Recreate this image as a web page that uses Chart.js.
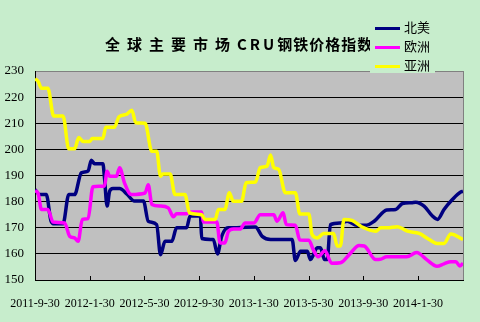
<!DOCTYPE html>
<html>
<head>
<meta charset="utf-8">
<script src="https://cdn.jsdelivr.net/npm/chart.js@4.4.1/dist/chart.umd.min.js"></script>
<style>
body { margin: 0; background: #c7edcc; }
#wrap { position: relative; width: 480px; height: 322px; }
#title { position: absolute; left: 105px; top: 35px; font: bold 15px "Noto Sans CJK SC"; line-height: 18px; white-space: nowrap; color: #000; }
#title .wide { letter-spacing: 7px; }
#title .latin { letter-spacing: 3px; }
#title .tight { letter-spacing: 1px; }
#legend { position: absolute; left: 370px; top: 16px; width: 65px; height: 57px; background: #c7edcc; font: 13px "Noto Sans CJK SC"; }
#legend div { position: absolute; left: 5px; height: 19px; line-height: 19px; white-space: nowrap; }
#legend span { display: inline-block; width: 25px; height: 3px; vertical-align: middle; margin-right: 4px; }
</style>
</head>
<body>
<div id="wrap">
  <canvas id="chart" width="480" height="322"></canvas>
  <div id="title"><span class="wide">全球主要市场</span><span class="latin">CRU</span><span class="tight">钢铁价格指数</span></div>
  <div id="legend"></div>
</div>
<script>
// x positions are weeks counted from 2011-9-30
const tickWeeks = [0, 17, 34, 51, 68, 85, 102, 119];
const tickLabels = ['2011-9-30', '2012-1-30', '2012-5-30', '2012-9-30', '2013-1-30', '2013-5-30', '2013-9-30', '2014-1-30'];
const seriesNames = ['北美', '欧洲', '亚洲'];
const seriesColors = ['#000080', '#ff00ff', '#ffff00'];

// 北美
const naWeeks = [0,1.4,3.5,5,6,8.7,10.5,12.3,14.4,16.5,17.5,18.5,21.1,21.6,22.4,23.2,24.2,26.3,28.5,30.9,33.7,35.2,37.8,39,40.4,42.5,44,47.1,48.2,51.4,51.8,55.4,56.7,58,60,62.7,68.5,70.6,73.2,79.9,80.9,82.5,84.6,85.6,87.7,88.7,90,90.8,91.8,94.9,97,100,103,105.4,109.3,112.1,114.2,117,118.3,120.9,123.5,125.1,127.1,129.7,132.3,133];
const naValues = [184.6,182.7,182.7,172.5,171.5,171.5,182.7,182.7,191,191.7,195.8,194.5,194.5,189,178.3,184,185,185,183,180.2,180.2,172.5,171.2,159.7,164.8,164.8,170,170,174.5,174.5,165.9,165.5,160,166.7,170,170,170.3,166.7,165.5,165.5,157.5,161,161,157.8,162.3,162.3,157.8,157.8,171.2,171.8,172.5,171,171,172.5,176.8,177,179.3,179.6,179.8,178.3,174.5,173.2,177,180.8,183.7,183.9];

// 欧洲
const euWeeks = [0,1,2,4,5.6,9.2,10.8,12.3,13.4,14.7,16.5,18,21.6,22.4,23.2,25.3,26.3,27.8,29.9,34.2,35.2,36.3,38.9,41.4,43,44,47.1,48.2,51.8,52.3,56.5,57.5,59,60.1,61.7,63.7,65.3,68,70,74.2,75.2,77.1,78.1,80.9,82.3,85.1,86.5,88,90.1,92.2,94.9,98,100.7,102.3,105.9,107.5,109.3,115.5,118.6,121.8,124.9,127.1,129.2,130.8,132,133];
const euValues = [184.2,183,177,177,172.2,171.8,166.7,166.1,164.8,173.2,173.5,185.7,186,191.6,189.7,189.7,193,187.2,182.7,183.3,186.5,178.9,178.3,177.6,174.2,175.4,175.4,176,176,172.2,172.2,164.2,164.2,168.6,169.5,169.5,171.8,171.8,175,175,172.5,175.7,171.2,171,165.3,165.2,161.5,158.9,161.2,156.4,156.6,160.2,163.2,163,157.8,158,158.9,158.9,160.5,157.7,155.3,156.2,157,157,155.4,156.4];

// 亚洲
const asWeeks = [0,1,2,4,5.8,8.7,10.5,12.3,13.6,15,17,17.8,21.1,22,24.7,26.1,28.4,30.1,31.3,34.2,36.3,37.8,39,39.7,42,43.5,46.6,48,51.8,52.8,56,57,59,60.4,61.6,64.2,65.6,68.5,70,72.1,73.2,74.2,75.7,77.8,80.9,82.3,85.1,86.1,87.7,89.7,92.8,93.9,94.9,96,98.5,101.5,105.9,107.5,109.5,112.6,115.7,119.4,122.5,125,127.1,129.2,133];
const asValues = [227,226,223.4,223.4,212.8,212.8,200.2,200.2,204.5,203,203,204.2,204.2,208.5,208.5,212.5,213.4,215,210.2,210,199.3,199.3,189.7,190.6,190.6,182.7,182.7,175.7,175,173.2,173.2,177,177,183.4,180.1,180.1,187.2,187.5,193,193.6,197.8,193,192.4,183.4,183.4,175.3,175.3,167.4,166.1,167.8,167.8,163,163,173.2,172.8,170.4,168.7,170,170,170.4,168.7,167.8,165.5,164,164,167.6,165.5];

function toPoints(weeks, values) {
    return weeks.map((w, i) => ({ x: w, y: values[i] }));
}

// Legend (HTML, top right)
const legendEl = document.getElementById('legend');
seriesNames.forEach((name, i) => {
    const row = document.createElement('div');
    row.style.top = (i * 19) + 1 + 'px';
    row.innerHTML = '<span style="background:' + seriesColors[i] + '"></span>' + name;
    legendEl.appendChild(row);
});

// Grey plot area with grey top/right border
const plotArea = {
    id: 'plotArea',
    beforeDraw(chart) {
        const { ctx, chartArea: a } = chart;
        ctx.save();
        ctx.fillStyle = '#c0c0c0';
        ctx.fillRect(a.left, a.top, a.right - a.left, a.bottom - a.top);
        ctx.restore();
    },
    afterDraw(chart) {
        const { ctx, chartArea: a, scales } = chart;
        ctx.save();
        ctx.strokeStyle = '#808080';
        ctx.lineWidth = 1;
        ctx.beginPath();
        ctx.moveTo(a.right + 0.5, a.top);
        ctx.lineTo(a.right + 0.5, a.bottom);
        ctx.stroke();
        // small tick marks pointing up from the x axis
        ctx.strokeStyle = '#000';
        tickWeeks.forEach(w => {
            const px = Math.round(scales.x.getPixelForValue(w)) + 0.5;
            ctx.beginPath();
            ctx.moveTo(px, a.bottom);
            ctx.lineTo(px, a.bottom - 4);
            ctx.stroke();
        });
        ctx.restore();
    }
};

const allWeeks = [naWeeks, euWeeks, asWeeks];
const allValues = [naValues, euValues, asValues];

new Chart(document.getElementById('chart'), {
    type: 'line',
    data: {
        datasets: seriesNames.map((name, i) => ({
            label: name,
            data: toPoints(allWeeks[i], allValues[i]),
            borderColor: seriesColors[i],
            backgroundColor: seriesColors[i],
            borderWidth: 3.5,
            pointRadius: 0,
            cubicInterpolationMode: 'monotone',
            order: 2 - i
        }))
    },
    options: {
        responsive: false,
        animation: false,
        devicePixelRatio: 1,
        layout: { padding: { top: 71, right: 17, left: 0, bottom: 0 } },
        plugins: {
            legend: { display: false },
            title: { display: false },
            tooltip: { enabled: false }
        },
        scales: {
            x: {
                type: 'linear',
                min: 0,
                max: 133,
                afterBuildTicks: s => { s.ticks = tickWeeks.map(v => ({ value: v })); },
                afterFit: s => { s.height = 42; },
                grid: { display: false },
                border: { color: '#000', width: 1 },
                ticks: {
                    autoSkip: false,
                    maxRotation: 0,
                    padding: 9,
                    color: '#000',
                    font: { family: 'Liberation Serif', size: 12 },
                    callback: v => tickLabels[tickWeeks.indexOf(v)] ?? ''
                }
            },
            y: {
                min: 150,
                max: 230,
                afterFit: s => { s.width = 35; },
                grid: {
                    color: c => (c.tick && c.tick.value === 230) ? '#808080' : '#000',
                    drawTicks: false
                },
                border: { color: '#000', width: 1 },
                ticks: {
                    stepSize: 10,
                    padding: 11,
                    color: '#000',
                    font: { family: 'Liberation Serif', size: 13 }
                }
            }
        }
    },
    plugins: [plotArea]
});
</script>
</body>
</html>
